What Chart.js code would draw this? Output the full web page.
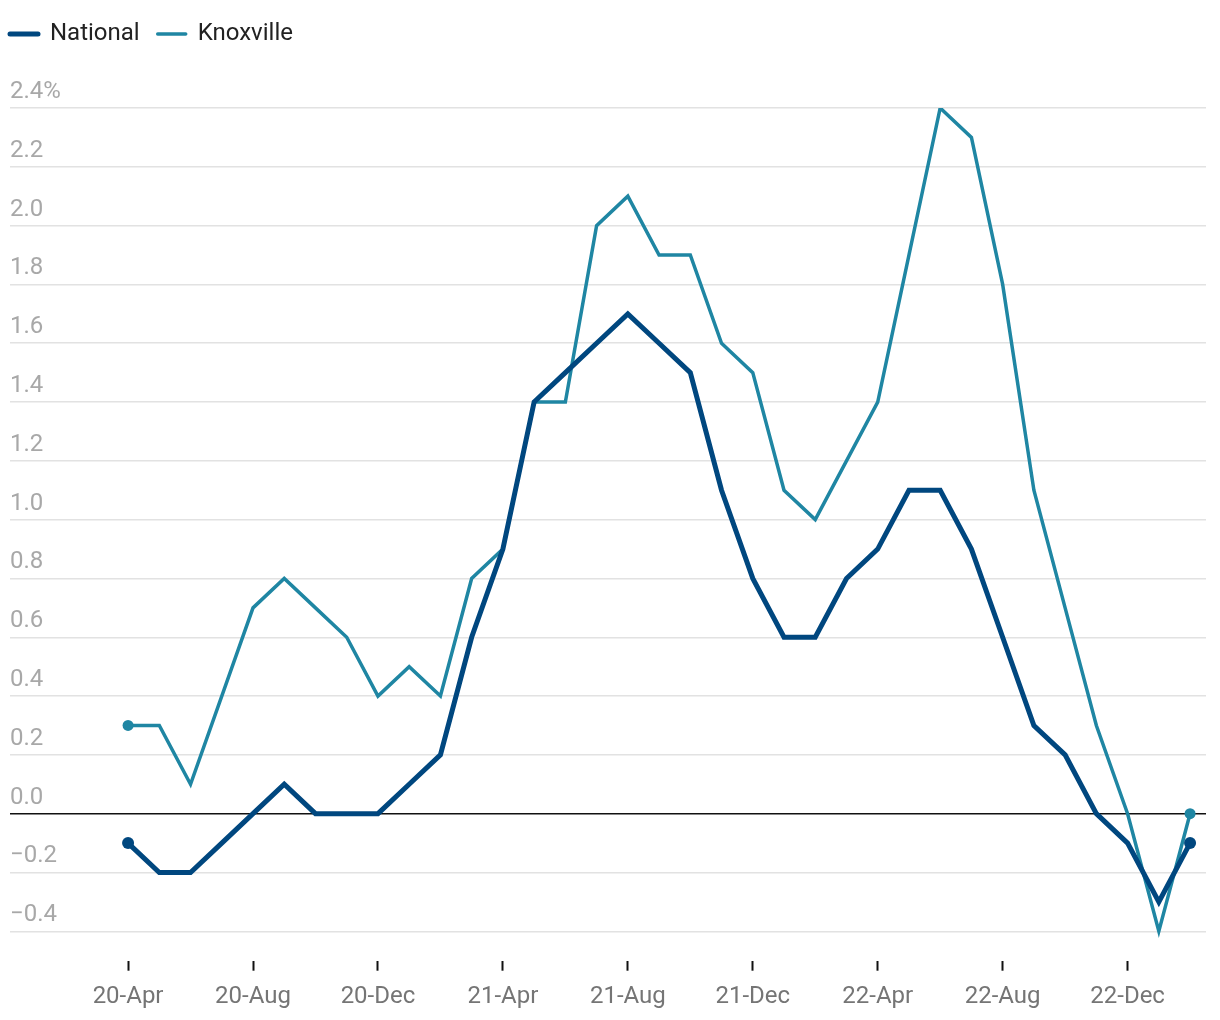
<!DOCTYPE html>
<html>
<head>
<meta charset="utf-8">
<script src="https://cdn.jsdelivr.net/npm/chart.js@4/dist/chart.umd.min.js"></script>
<style>
html,body{margin:0;padding:0;background:#fff;}
#wrap{width:1220px;height:1020px;}
</style>
</head>
<body>
<div id="wrap"><canvas id="c" width="1220" height="1020"></canvas></div>
<script>
const months = ['20-Apr','20-May','20-Jun','20-Jul','20-Aug','20-Sep','20-Oct','20-Nov','20-Dec',
  '21-Jan','21-Feb','21-Mar','21-Apr','21-May','21-Jun','21-Jul','21-Aug','21-Sep','21-Oct','21-Nov','21-Dec',
  '22-Jan','22-Feb','22-Mar','22-Apr','22-May','22-Jun','22-Jul','22-Aug','22-Sep','22-Oct','22-Nov','22-Dec',
  '23-Jan','23-Feb'];
const national = [-0.1,-0.2,-0.2,-0.1,0.0,0.1,0.0,0.0,0.0,0.1,0.2,0.6,0.9,1.4,1.5,1.6,1.7,1.6,1.5,1.1,0.8,0.6,0.6,0.8,0.9,1.1,1.1,0.9,0.6,0.3,0.2,0.0,-0.1,-0.3,-0.1];
const knoxville = [0.3,0.3,0.1,0.4,0.7,0.8,0.7,0.6,0.4,0.5,0.4,0.8,0.9,1.4,1.4,2.0,2.1,1.9,1.9,1.6,1.5,1.1,1.0,1.2,1.4,1.9,2.4,2.3,1.8,1.1,0.7,0.3,0.0,-0.4,0.0];
const xTickLabels = ['20-Apr','20-Aug','20-Dec','21-Apr','21-Aug','21-Dec','22-Apr','22-Aug','22-Dec'];
const yTicks = [-0.4,-0.2,0.0,0.2,0.4,0.6,0.8,1.0,1.2,1.4,1.6,1.8,2.0,2.2,2.4];

const last = months.length - 1;
const endDot = (r) => (ctx) => (ctx.dataIndex === 0 || ctx.dataIndex === last) ? r : 0;
const toPts = (arr) => arr.map((v, i) => ({x: i, y: v}));

const legendPad = {
  id: 'legendPad',
  afterInit(chart) {
    const orig = chart.legend.fit;
    chart.legend.fit = function() { orig.call(this); this.height += 52; };
  }
};

new Chart(document.getElementById('c'), {
  type: 'line',
  data: {
    datasets: [
      {label: 'National', data: toPts(national), borderColor: '#00477f', backgroundColor: '#00477f',
       borderWidth: 5, borderCapStyle: 'round', borderJoinStyle: 'miter', pointRadius: endDot(6),
       pointBorderWidth: 0, pointHoverRadius: 0, tension: 0},
      {label: 'Knoxville', data: toPts(knoxville), borderColor: '#1f86a3', backgroundColor: '#1f86a3',
       borderWidth: 3.5, borderCapStyle: 'round', borderJoinStyle: 'miter', pointRadius: endDot(5.5),
       pointBorderWidth: 0, pointHoverRadius: 0, tension: 0}
    ]
  },
  options: {
    responsive: false,
    animation: false,
    devicePixelRatio: 1,
    layout: {padding: {left: -8, right: 14, top: 4, bottom: -3.5}},
    plugins: {
      tooltip: {enabled: false},
      legend: {
        position: 'top', align: 'start',
        labels: {usePointStyle: true, pointStyle: 'line', pointStyleWidth: 28, boxHeight: 20,
                 padding: 18, color: '#222', font: {family: 'Roboto', size: 24},
                 generateLabels(chart) {
                   return chart.data.datasets.map((ds, i) => ({
                     text: ds.label, fillStyle: ds.borderColor, strokeStyle: ds.borderColor,
                     lineWidth: ds.borderWidth, lineCap: 'round', pointStyle: 'line',
                     fontColor: '#222', hidden: false, datasetIndex: i
                   }));
                 }}
      }
    },
    scales: {
      x: {
        type: 'linear', min: -3.78, max: 34.51,
        afterBuildTicks(scale) { scale.ticks = xTickLabels.map((l, k) => ({value: k * 4})); },
        ticks: {callback: (v) => xTickLabels[v / 4], color: '#757575', padding: 12,
                font: {family: 'Roboto', size: 24}, maxRotation: 0, autoSkip: false},
        grid: {drawOnChartArea: false, drawTicks: true, tickLength: 10, color: '#111', tickWidth: 2},
        border: {display: false}
      },
      y: {
        type: 'linear', min: -0.5, max: 2.4,
        afterBuildTicks(scale) { scale.ticks = yTicks.map(v => ({value: v})); },
        afterFit(scale) { scale.width = 18; },
        ticks: {
          mirror: true, padding: 0, labelOffset: -16, color: '#a8a8a8',
          font: {family: 'Roboto', size: 24},
          callback: (v) => {
            const s = Math.abs(v).toFixed(1);
            const t = (v < -0.001 ? '\u2212' : '') + s;
            return Math.abs(v - 2.4) < 1e-6 ? t + '%' : t;
          }
        },
        grid: {drawTicks: false, color: (c) => Math.abs(c.tick.value) < 1e-6 ? '#111' : '#e2e2e2',
               lineWidth: 1.5},
        border: {display: false}
      }
    }
  },
  plugins: [legendPad]
});
</script>
</body>
</html>
